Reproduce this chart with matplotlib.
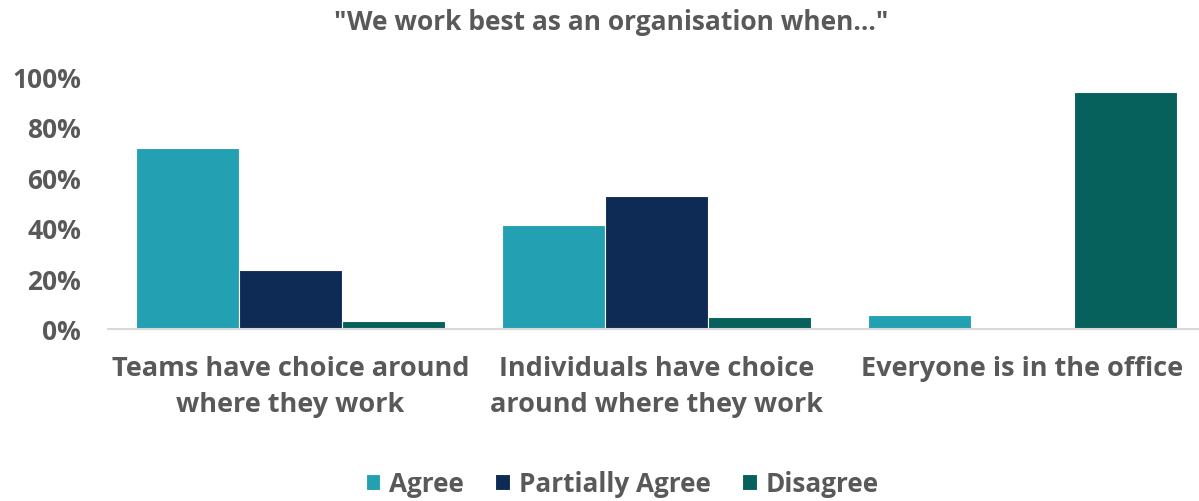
import matplotlib.pyplot as plt
import numpy as np
from matplotlib.ticker import FuncFormatter

categories = ["Teams have choice around\nwhere they work",
              "Individuals have choice\naround where they work",
              "Everyone is in the office"]
series_names = ["Agree", "Partially Agree", "Disagree"]
agree = [71.5, 41.1, 5.5]
partially_agree = [23.3, 52.4, 0.0]
disagree = [3.1, 4.7, 93.5]
y_ticks = [0, 20, 40, 60, 80, 100]
title = '"We work best as an organisation when..."'

colors = ["#23A0B2", "#0D2B54", "#06605B"]
text_color = "#595959"

plt.rcParams['font.family'] = ['Open Sans', 'DejaVu Sans']

fig = plt.figure(figsize=(11.99, 5.02), dpi=100)
ax = fig.add_axes([107.5 / 1199, (502 - 330) / 502, 1098 / 1199, (330 - 77) / 502])

x = np.arange(len(categories))
width = 0.281
for i, (vals, name, col) in enumerate(zip([agree, partially_agree, disagree], series_names, colors)):
    ax.bar(x + (i - 1) * width, vals, width, color=col, label=name,
           edgecolor="white", linewidth=0.8)

ax.set_xlim(-0.5, len(categories) - 0.5)
ax.set_ylim(0, 100)
ax.set_yticks(y_ticks)
ax.yaxis.set_major_formatter(FuncFormatter(lambda v, p: f"{v:.0f}%"))
ax.set_xticks(x)
ax.set_xticklabels(categories, linespacing=1.5)

for s in ["top", "right", "left"]:
    ax.spines[s].set_visible(False)
ax.spines["bottom"].set_color("#D9D9D9")
ax.spines["bottom"].set_linewidth(1.5)
ax.tick_params(axis="both", length=0, colors=text_color)
ax.tick_params(axis="y", labelsize=19, pad=19)
ax.tick_params(axis="x", labelsize=19.5, pad=19)
for lbl in ax.get_xticklabels() + ax.get_yticklabels():
    lbl.set_fontweight("bold")

fig.text(0.51, 0.955, title, ha="center", va="center", fontsize=19,
         fontweight="bold", color=text_color)

leg = fig.legend(loc="center", bbox_to_anchor=(0.519, 0.034), ncol=3, frameon=False,
                 fontsize=18.8, handlelength=0.55, handleheight=0.55, handletextpad=0.35,
                 columnspacing=1.2, borderpad=0.1)
for t in leg.get_texts():
    t.set_color(text_color)
    t.set_fontweight("bold")

fig.savefig("out.png", dpi=100, facecolor="white")
